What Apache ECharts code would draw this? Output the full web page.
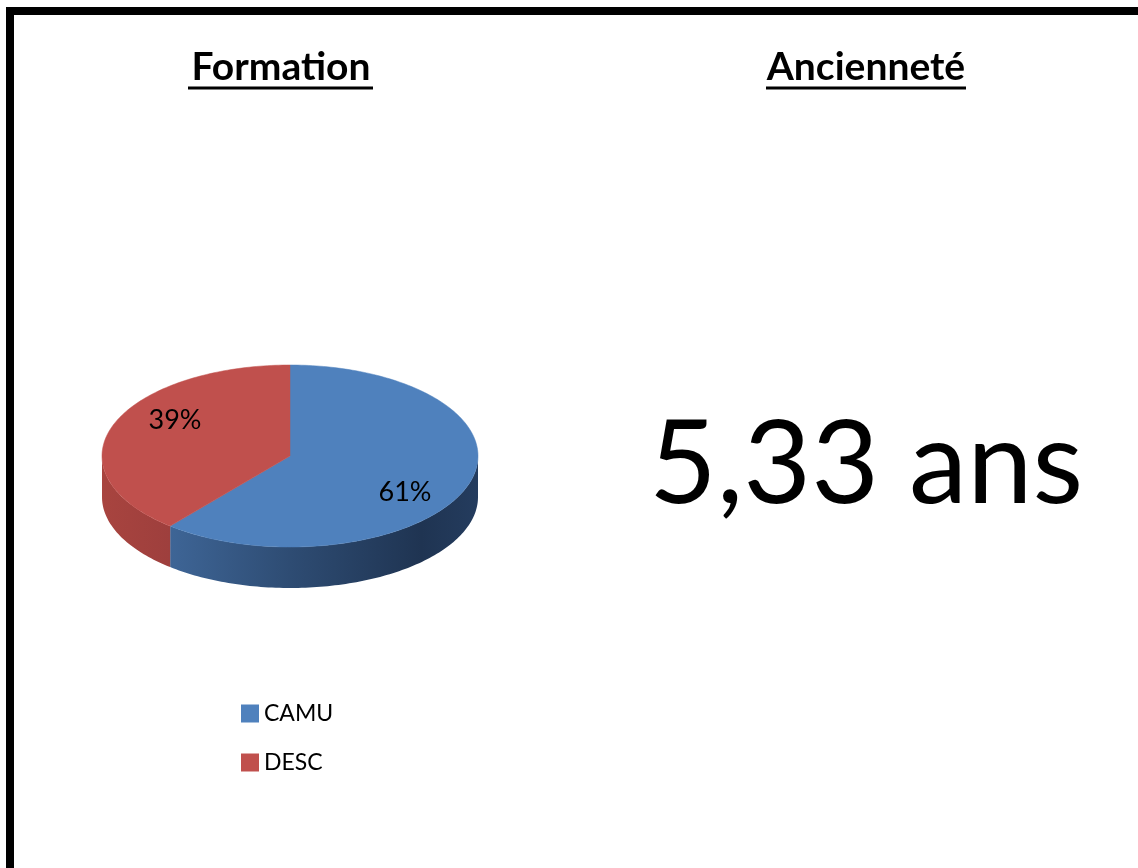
<!DOCTYPE html>
<html>
<head>
<meta charset="utf-8">
<title>Formation / Ancienneté</title>
<script src="https://cdn.jsdelivr.net/npm/echarts@6/dist/echarts.min.js"></script>
<style>
  html, body { margin: 0; padding: 0; background: #fff; }
  #main { width: 1138px; height: 868px; }
</style>
</head>
<body>
<div id="main"></div>
<script>
// données
var categories = ['CAMU', 'DESC'];
var values = [61, 39];
var anciennete = '5,33 ans';

var topColors = ['#4F81BD', '#C0504D'];
var font = 'Lato, "Open Sans", sans-serif';

var myChart = echarts.init(document.getElementById('main'));

// camembert "3D" : ellipse + épaisseur
var cx = 290, cy = 456, rx = 188, ry = 91, depth = 41;
var total = values.reduce(function (a, b) { return a + b; }, 0);

function pt(t, dy) {
  return [cx + rx * Math.sin(t), cy - ry * Math.cos(t) + (dy || 0)];
}

function arc(a, b, dy) {
  var pts = [], n = Math.max(2, Math.ceil((b - a) / 0.02));
  for (var k = 0; k <= n; k++) pts.push(pt(a + (b - a) * k / n, dy));
  return pts;
}

var sideFills = [
  new echarts.graphic.LinearGradient(102, 0, 478, 0, [
    { offset: 0, color: '#4A78AE' },
    { offset: 0.18, color: '#3E6596' },
    { offset: 0.5, color: '#2E4C73' },
    { offset: 0.85, color: '#1F3452' },
    { offset: 1, color: '#243C5E' }
  ], true),
  new echarts.graphic.LinearGradient(102, 0, 170, 0, [
    { offset: 0, color: '#A8443F' },
    { offset: 1, color: '#9E3F3D' }
  ], true)
];

function renderSlice(idx) {
  return function (params, api) {
    var before = 0;
    for (var j = 0; j < idx; j++) before += values[j];
    var a = before / total * Math.PI * 2;
    var b = (before + values[idx]) / total * Math.PI * 2;
    var children = [];

    children.push({
      type: 'polygon',
      z2: 10,
      shape: { points: [[cx, cy]].concat(arc(a, b, 0)) },
      style: { fill: topColors[idx], stroke: topColors[idx], lineWidth: 0.5 }
    });

    var s = Math.max(a, Math.PI / 2), e = Math.min(b, Math.PI * 1.5);
    if (e > s) {
      var side = arc(s, e, 0).concat(arc(s, e, depth).reverse());
      children.push({
        type: 'polygon',
        z2: 1,
        shape: { points: side },
        style: { fill: sideFills[idx] }
      });
    }

    var m = (a + b) / 2;
    children.push({
      type: 'text',
      z2: 20,
      x: cx + rx * 0.65 * Math.sin(m),
      y: cy - ry * 1.17 * Math.cos(m),
      style: {
        text: Math.round(values[idx] / total * 100) + '%',
        fill: '#000',
        font: '27px ' + font,
        align: 'center',
        verticalAlign: 'middle'
      }
    });
    return { type: 'group', children: children };
  };
}

var option = {
  backgroundColor: '#fff',
  legend: {
    orient: 'vertical',
    left: 236,
    top: 697,
    icon: 'rect',
    itemWidth: 18,
    itemHeight: 18,
    itemGap: 26,
    selectedMode: false,
    textStyle: { fontFamily: font, fontSize: 23, color: '#000' },
    data: categories
  },
  graphic: [
    {
      type: 'rect',
      shape: { x: 10, y: 11, width: 1300, height: 1000 },
      style: { fill: 'none', stroke: '#000', lineWidth: 8 }
    },
    {
      type: 'text', x: 281, y: 67,
      style: { text: 'Formation', font: 'bold 39px ' + font, fill: '#000', align: 'center', verticalAlign: 'middle' }
    },
    { type: 'rect', shape: { x: 188, y: 86.5, width: 185, height: 3 }, style: { fill: '#000' } },
    {
      type: 'text', x: 866, y: 67,
      style: { text: 'Ancienneté', font: 'bold 39px ' + font, fill: '#000', align: 'center', verticalAlign: 'middle' }
    },
    { type: 'rect', shape: { x: 766, y: 86.5, width: 200, height: 3 }, style: { fill: '#000' } },
    {
      type: 'text', x: 866, y: 465,
      style: { text: anciennete, font: '117px ' + font, fill: '#000', align: 'center', verticalAlign: 'middle' }
    }
  ],
  series: categories.map(function (name, i) {
    return {
      type: 'custom',
      name: name,
      coordinateSystem: 'none',
      itemStyle: { color: topColors[i] },
      silent: true,
      data: [values[i]],
      renderItem: renderSlice(i)
    };
  })
};
myChart.setOption(option);
</script>
</body>
</html>
